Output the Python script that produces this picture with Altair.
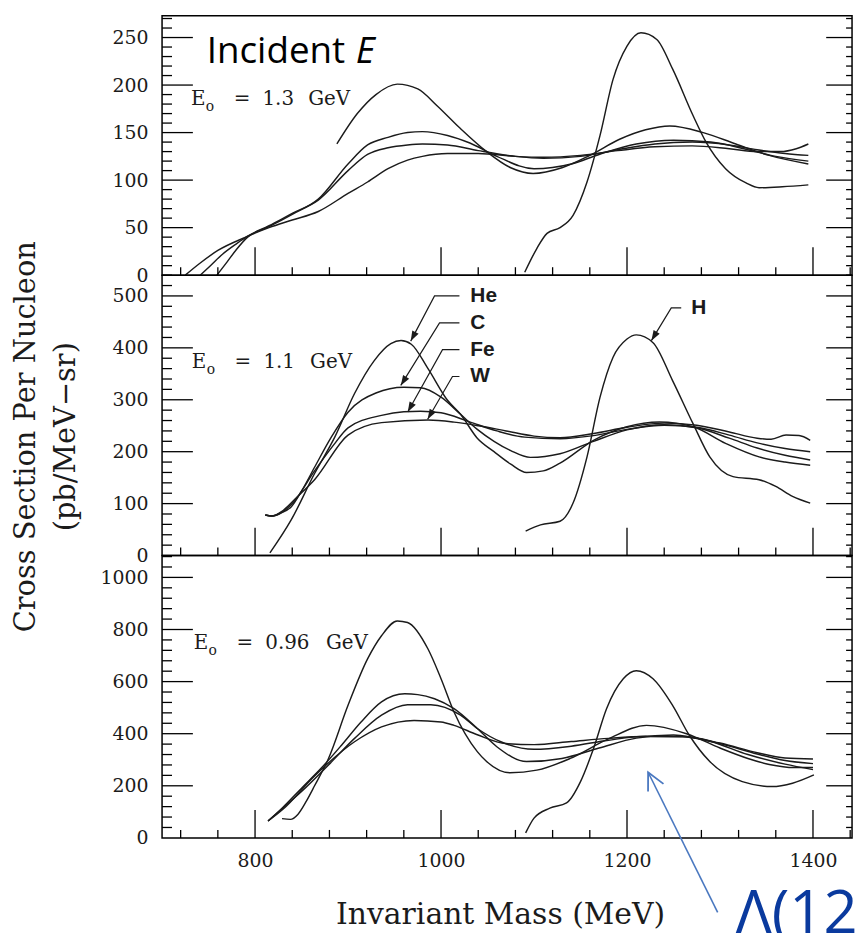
import math
import altair as alt
import pandas as pd

# ---------------------------------------------------------------------------
# Axis ranges and tick positions
# ---------------------------------------------------------------------------
MASS_MIN, MASS_MAX = 700, 1442
PLOT_W = 694
MASS_LABELS = [800, 1000, 1200, 1400]
MASS_TICKS = list(range(720, 1441, 40))

# panels from top to bottom: E0 = 1.3, 1.1, 0.96 GeV
PANEL_H = [261, 282, 284]
XS_MAX = [273, 540, 1084]
XS_LABELS = [
    [0, 50, 100, 150, 200, 250],
    [0, 100, 200, 300, 400, 500],
    [0, 200, 400, 600, 800, 1000],
]
XS_MINOR_STEP = [10, 20, 40]
ENERGIES = ["1.3", "1.1", "0.96"]

# ---------------------------------------------------------------------------
# Cross-section curves, (invariant mass MeV, pb/MeV-sr)
# ---------------------------------------------------------------------------
# E0 = 1.3 GeV
H_13 = [(1090, 3), (1103, 28), (1114, 44), (1128, 50), (1142, 63), (1157, 98), (1171, 147),
        (1185, 206), (1200, 241), (1215, 255), (1232, 248), (1249, 217), (1271, 168),
        (1285, 140), (1306, 112), (1328, 97), (1342, 92), (1367, 93), (1395, 95)]
HE_13 = [(888, 138), (910, 170), (930, 190), (953, 201), (975, 196), (996, 178), (1020, 155),
         (1049, 130), (1075, 113), (1099, 107), (1130, 113), (1160, 126), (1192, 143),
         (1220, 153), (1246, 157), (1282, 150), (1317, 138), (1353, 126), (1395, 117)]
C_13 = [(759, 0), (770, 14), (780, 27), (792, 40), (815, 51), (840, 64), (868, 80), (900, 117),
        (921, 137), (943, 145), (964, 150), (980, 151), (1007, 147), (1031, 139), (1060, 125),
        (1100, 112), (1140, 117), (1170, 127), (1210, 138), (1250, 142), (1290, 140),
        (1330, 132), (1360, 125), (1395, 120)]
FE_13 = [(741, 0), (752, 10), (765, 22), (780, 33), (792, 41), (815, 52), (840, 65), (868, 79),
         (900, 110), (921, 127), (943, 134), (964, 137), (980, 138), (1007, 137), (1040, 131),
         (1080, 125), (1110, 123), (1150, 125), (1190, 132), (1230, 138), (1270, 140),
         (1310, 137), (1340, 132), (1370, 128), (1395, 126)]
W_13 = [(725, 0), (740, 12), (760, 26), (790, 40), (815, 50), (840, 58), (868, 67), (900, 86),
        (921, 98), (943, 112), (964, 121), (980, 125), (1007, 128), (1040, 128), (1080, 125),
        (1110, 124), (1150, 126), (1190, 131), (1230, 135), (1270, 136), (1310, 133),
        (1340, 130), (1365, 130), (1382, 133), (1395, 138)]

# E0 = 1.1 GeV
H_11 = [(1091, 47), (1107, 59), (1128, 66), (1142, 101), (1157, 190), (1171, 305), (1185, 382),
        (1200, 417), (1210, 425), (1228, 410), (1249, 337), (1271, 254), (1289, 190),
        (1314, 152), (1342, 146), (1360, 133), (1378, 114), (1397, 101)]
HE_11 = [(816, 5), (839, 69), (864, 158), (886, 229), (907, 312), (928, 375), (946, 408),
         (957, 414), (968, 407), (986, 360), (1007, 299), (1021, 272), (1039, 226), (1057, 200),
         (1075, 176), (1092, 160), (1110, 163), (1128, 178), (1164, 222), (1200, 248),
         (1235, 257), (1271, 248), (1306, 216), (1342, 190), (1370, 180), (1397, 174)]
C_11 = [(811, 78), (818, 76), (828, 82), (839, 94), (850, 124), (864, 170), (882, 228),
        (900, 276), (930, 313), (960, 324), (978, 323), (1000, 305), (1021, 272), (1039, 243),
        (1057, 220), (1075, 202), (1096, 189), (1128, 196), (1164, 220), (1200, 242),
        (1240, 252), (1275, 246), (1310, 226), (1340, 207), (1370, 193), (1397, 184)]
FE_11 = [(811, 78), (818, 76), (828, 82), (840, 100), (864, 163), (885, 214), (900, 246),
         (936, 270), (960, 277), (978, 278), (1000, 275), (1030, 258), (1060, 240), (1090, 228),
         (1128, 225), (1164, 231), (1200, 243), (1240, 251), (1275, 247), (1310, 232),
         (1340, 217), (1370, 206), (1397, 200)]
W_11 = [(811, 78), (818, 76), (828, 84), (846, 114), (864, 146), (900, 232), (936, 256),
        (986, 261), (1014, 257), (1040, 250), (1070, 240), (1100, 230), (1128, 227),
        (1164, 235), (1200, 247), (1240, 255), (1275, 251), (1310, 238), (1340, 226),
        (1355, 224), (1371, 232), (1385, 231), (1397, 222)]

# E0 = 0.96 GeV
H_096 = [(1091, 19), (1100, 76), (1117, 114), (1135, 134), (1150, 216), (1164, 343),
         (1178, 496), (1196, 611), (1210, 642), (1228, 611), (1249, 509), (1267, 394),
         (1289, 293), (1324, 216), (1356, 197), (1378, 210), (1401, 242)]
HE_096 = [(829, 74), (838, 71), (846, 90), (855, 140), (864, 200), (879, 305), (900, 509),
          (921, 687), (936, 776), (953, 833), (964, 827), (986, 725), (1000, 611), (1014, 483),
          (1039, 331), (1049, 293), (1074, 250), (1103, 260), (1139, 305), (1180, 380),
          (1221, 432), (1264, 400), (1300, 345), (1330, 305), (1353, 282), (1380, 270),
          (1400, 270)]
C_096 = [(814, 65), (829, 114), (850, 191), (871, 267), (893, 356), (914, 445), (936, 522),
         (961, 553), (975, 550), (993, 534), (1014, 496), (1039, 420), (1060, 350), (1092, 293),
         (1130, 305), (1170, 345), (1210, 383), (1250, 395), (1290, 370), (1330, 320),
         (1370, 283), (1400, 262)]
FE_096 = [(814, 65), (829, 112), (850, 178), (879, 280), (907, 382), (936, 471), (964, 511),
          (989, 511), (1021, 471), (1039, 420), (1065, 368), (1100, 340), (1140, 352),
          (1180, 375), (1220, 390), (1260, 388), (1300, 362), (1340, 322), (1370, 297),
          (1400, 285)]
W_096 = [(814, 65), (830, 110), (864, 238), (907, 369), (936, 426), (971, 451), (1000, 445),
         (1014, 432), (1039, 396), (1070, 362), (1100, 358), (1140, 370), (1180, 382),
         (1220, 389), (1260, 389), (1300, 364), (1340, 327), (1370, 307), (1400, 303)]

CURVES = [
    {"H": H_13, "He": HE_13, "C": C_13, "Fe": FE_13, "W": W_13},
    {"H": H_11, "He": HE_11, "C": C_11, "Fe": FE_11, "W": W_11},
    {"H": H_096, "He": HE_096, "C": C_096, "Fe": FE_096, "W": W_096},
]

# Target labels of the 1.1 GeV panel: text anchor, leader start, bend, arrow tip
TARGETS = ["He", "C", "Fe", "W", "H"]
TARGET_TEXT = [(1031.5, 500), (1031.5, 448), (1031.5, 396.6), (1031.5, 344.8), (1269, 477)]
TARGET_START = [(1019.8, 500), (1019.8, 448), (1019.8, 396.6), (1019.8, 344.8), (1258.3, 477)]
TARGET_BEND = [(993, 500), (998.4, 448), (1001.6, 396.6), (1012.3, 344.8), (1247.6, 477)]
TARGET_TIP = [(967.4, 413), (956.7, 327.6), (964.2, 276.4), (985.6, 262.5), (1226.2, 413.8)]

# E0 label anchors (mass, value) per panel
E_ANCHOR = [(731, 179), (732, 362), (734, 725)]
GEV_DX = [118, 119, 133]

INK = "#1b1b1b"
BLUE_TEXT = "#0a3a9e"
BLUE_ARROW = "#4a78c0"
SERIF = "DejaVu Serif"

SX = PLOT_W / (MASS_MAX - MASS_MIN)


def head_angle(m0, v0, m1, v1, sy):
    """Clockwise rotation of a down-pointing symbol so it points from (m0,v0) to (m1,v1)."""
    dx = (m1 - m0) * SX
    dy = -(v1 - v0) * sy
    return math.degrees(math.atan2(-dx, dy)) % 360


def panel(idx):
    h = PANEL_H[idx]
    ymax = XS_MAX[idx]
    sy = h / ymax
    bottom = idx == 2

    xs = alt.Scale(domain=[MASS_MIN, MASS_MAX], nice=False, zero=False)
    ys = alt.Scale(domain=[0, ymax], nice=False, zero=False)

    if bottom:
        x_axis = alt.Axis(values=MASS_LABELS, format="d", ticks=False, domain=False, grid=False,
                          labelPadding=14, labelFlush=False, labelOverlap=False,
                          title="Invariant Mass (MeV)", titleX=340, titleY=86,
                          titleFontSize=30, titleBaseline="alphabetic")
    else:
        x_axis = None

    if idx == 1:
        y_axis = alt.Axis(values=XS_LABELS[idx], format="d", ticks=False, domain=False, grid=False,
                          labelPadding=14, labelFlush=False, labelOverlap=False,
                          title=["Cross Section Per Nucleon", "(pb/MeV\u2212sr)"],
                          titleX=-128, titleY=162, titleBaseline="alphabetic",
                          titleLineHeight=40)
    else:
        y_axis = alt.Axis(values=XS_LABELS[idx], format="d", ticks=False, domain=False, grid=False,
                          labelPadding=14, labelFlush=False, labelOverlap=False, title=None)

    def X():
        return alt.X("m:Q", scale=xs, axis=x_axis)

    def Y():
        return alt.Y("v:Q", scale=ys, axis=y_axis)

    # curves
    rows = []
    for name, pts in CURVES[idx].items():
        for i, (m, v) in enumerate(pts):
            rows.append({"nucleus": name, "i": i, "m": m, "v": v})
    curves = alt.Chart(pd.DataFrame(rows)).mark_line(
        interpolate="monotone", color=INK, strokeWidth=1.45
    ).encode(x=X(), y=Y(), detail="nucleus:N", order="i:Q")

    layers = [curves]

    # inward ticks on left / right frame
    step = XS_MINOR_STEP[idx]
    minor_v = [k * step for k in range(1, int(ymax // step) + 1)
               if k * step not in XS_LABELS[idx]]
    major_v = [v for v in XS_LABELS[idx] if v > 0]
    df_ymin = pd.DataFrame({"v": minor_v})
    df_ymaj = pd.DataFrame({"v": major_v})
    tick = dict(color="black", strokeWidth=1.3)
    layers += [
        alt.Chart(df_ymaj).mark_rule(**tick).encode(y=Y(), x=alt.value(0), x2=alt.value(31)),
        alt.Chart(df_ymin).mark_rule(**tick).encode(y=Y(), x=alt.value(0), x2=alt.value(10)),
        alt.Chart(df_ymaj).mark_rule(**tick).encode(y=Y(), x=alt.value(PLOT_W), x2=alt.value(PLOT_W - 26)),
        alt.Chart(df_ymin).mark_rule(**tick).encode(y=Y(), x=alt.value(PLOT_W), x2=alt.value(PLOT_W - 6)),
    ]
    # inward ticks on the bottom frame
    df_xmaj = pd.DataFrame({"m": MASS_LABELS})
    df_xmin = pd.DataFrame({"m": [m for m in MASS_TICKS if m not in MASS_LABELS]})
    layers += [
        alt.Chart(df_xmaj).mark_rule(**tick).encode(x=X(), y=alt.value(h), y2=alt.value(h - 28)),
        alt.Chart(df_xmin).mark_rule(**tick).encode(x=X(), y=alt.value(h), y2=alt.value(h - 8)),
    ]

    # E0 label: E, subscript o, "=", energy, GeV
    em, ev = E_ANCHOR[idx]
    df_e = pd.DataFrame({"m": [em], "v": [ev]})
    etxt = dict(font=SERIF, fontSize=20, color=INK, align="left", baseline="alphabetic")
    layers += [
        alt.Chart(df_e).mark_text(text="E", **etxt).encode(x=X(), y=Y()),
        alt.Chart(df_e).mark_text(text="o", dx=15, dy=6, font=SERIF, fontSize=14, color=INK,
                                  align="left", baseline="alphabetic").encode(x=X(), y=Y()),
        alt.Chart(df_e).mark_text(text="=", dx=43, **etxt).encode(x=X(), y=Y()),
        alt.Chart(df_e).mark_text(text=ENERGIES[idx], dx=72, **etxt).encode(x=X(), y=Y()),
        alt.Chart(df_e).mark_text(text="GeV", dx=GEV_DX[idx], **etxt).encode(x=X(), y=Y()),
    ]

    if idx == 0:
        df_inc = pd.DataFrame({"m": [748], "v": [223]})
        layers += [
            alt.Chart(df_inc).mark_text(text="Incident", font="Open Sans", fontSize=37,
                                        color="black", align="left",
                                        baseline="alphabetic").encode(x=X(), y=Y()),
            alt.Chart(df_inc).mark_text(text="E", dx=150, font="Open Sans", fontSize=37,
                                        fontStyle="italic", color="black", align="left",
                                        baseline="alphabetic").encode(x=X(), y=Y()),
        ]

    if idx == 1:
        lead_rows, head_rows, text_rows = [], [], []
        for name, t, s, b, p in zip(TARGETS, TARGET_TEXT, TARGET_START, TARGET_BEND, TARGET_TIP):
            for k, (m, v) in enumerate([s, b, p]):
                lead_rows.append({"label": name, "seq": k, "m": m, "v": v})
            head_rows.append({"m": p[0], "v": p[1], "ang": head_angle(b[0], b[1], p[0], p[1], sy)})
            text_rows.append({"label": name, "m": t[0], "v": t[1]})
        layers += [
            alt.Chart(pd.DataFrame(lead_rows)).mark_line(color=INK, strokeWidth=1.2).encode(
                x=X(), y=Y(), detail="label:N", order="seq:Q"),
            alt.Chart(pd.DataFrame(head_rows)).mark_point(
                shape="M0,0L-0.35,-1L0.35,-1Z", filled=True, color=INK, opacity=1, size=420
            ).encode(x=X(), y=Y(), angle=alt.Angle("ang:Q", scale=None)),
            alt.Chart(pd.DataFrame(text_rows)).mark_text(
                font="Liberation Sans", fontWeight="bold", fontSize=21, color=INK,
                align="left", baseline="middle"
            ).encode(x=X(), y=Y(), text="label:N"),
        ]

    if bottom:
        tail = (1297.5, -286)
        tip = (1222.7, 252)
        df_arrow = pd.DataFrame({"m": [tail[0], tip[0]], "v": [tail[1], tip[1]], "seq": [0, 1]})
        df_tip = pd.DataFrame({"m": [tip[0]], "v": [tip[1]],
                               "ang": [head_angle(tail[0], tail[1], tip[0], tip[1], sy)]})
        df_lam = pd.DataFrame({"m": [1317], "v": [-366]})
        layers += [
            alt.Chart(df_arrow).mark_line(color=BLUE_ARROW, strokeWidth=1.6).encode(
                x=X(), y=Y(), order="seq:Q"),
            alt.Chart(df_tip).mark_point(
                shape="M-0.5,-1L0,0L0.5,-1", filled=False, stroke=BLUE_ARROW,
                strokeWidth=1.8, opacity=1, size=1200
            ).encode(x=X(), y=Y(), angle=alt.Angle("ang:Q", scale=None)),
            alt.Chart(df_lam).mark_text(
                text="\u039b(12", font="Open Sans", fontSize=60, color=BLUE_TEXT,
                align="left", baseline="alphabetic"
            ).encode(x=X(), y=Y()),
        ]

    return alt.layer(*layers).properties(width=PLOT_W, height=h)


chart = alt.vconcat(panel(0), panel(1), panel(2), spacing=0, bounds="flush").properties(
    padding={"left": 11, "top": 12, "right": 0, "bottom": 0},
    background="white",
).configure_view(
    stroke="black", strokeWidth=1.5
).configure_axis(
    labelFont=SERIF, labelFontSize=19, labelColor=INK,
    titleFont=SERIF, titleFontSize=29, titleFontWeight="normal", titleColor=INK
)

chart.save("out.html", embed_options={"renderer": "svg", "actions": False})
